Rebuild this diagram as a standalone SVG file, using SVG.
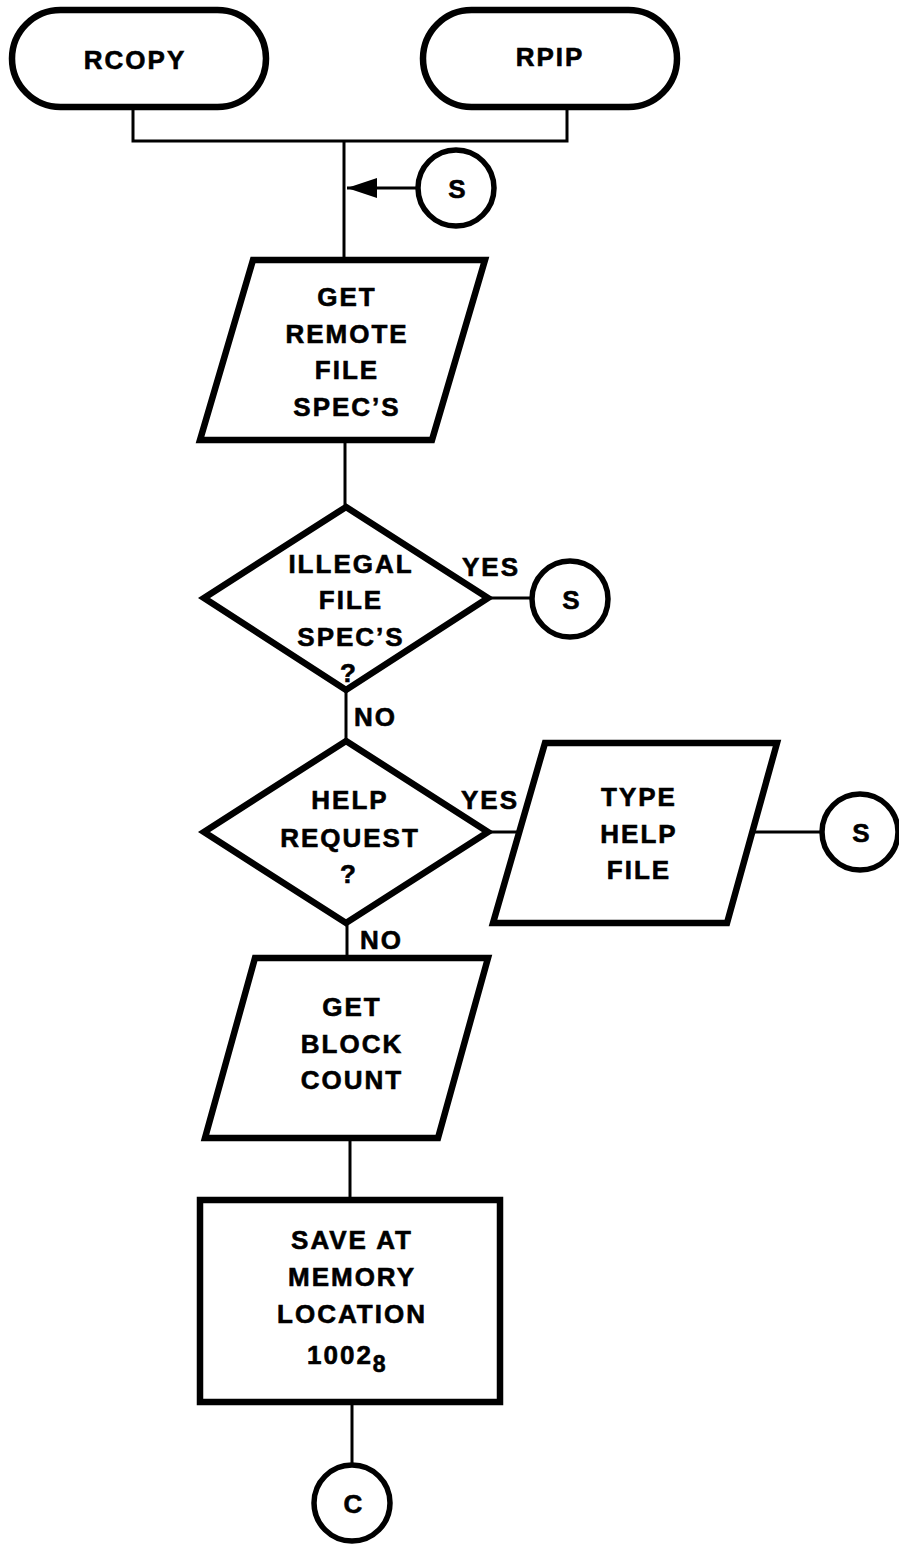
<svg xmlns="http://www.w3.org/2000/svg" width="899" height="1544" viewBox="0 0 899 1544">
<style>
.shape{fill:#fff;stroke:#000;stroke-width:6.5;stroke-linejoin:miter}
.circ{fill:#fff;stroke:#000;stroke-width:5.5}
.conn{fill:none;stroke:#000;stroke-width:3}
text{font-family:"Liberation Sans",Arial,sans-serif;font-weight:bold;font-size:26px;letter-spacing:2px;fill:#000;stroke:#000;stroke-width:0.6}
.m{text-anchor:middle}
.sub{font-size:23px;letter-spacing:0}
</style>
<defs>
<marker id="arr" viewBox="0 0 30 20" refX="30" refY="10" markerWidth="30" markerHeight="20" markerUnits="userSpaceOnUse" orient="auto">
<path d="M0,0 L30,10 L0,20 Z" fill="#000"/>
</marker>
</defs>
<rect width="899" height="1544" fill="#fff"/>
<g id="connectors">
<polyline class="conn" points="133,107 133,141 567,141 567,107"/>
<line class="conn" x1="344" y1="141" x2="344" y2="260"/>
<line class="conn" x1="417" y1="188" x2="347" y2="188" marker-end="url(#arr)"/>
<line class="conn" x1="345" y1="440" x2="345" y2="507"/>
<line class="conn" x1="488" y1="598" x2="532" y2="598"/>
<line class="conn" x1="346" y1="690" x2="346" y2="741"/>
<line class="conn" x1="488" y1="832" x2="519" y2="832"/>
<line class="conn" x1="752" y1="832" x2="822" y2="832"/>
<line class="conn" x1="347" y1="923" x2="347" y2="958"/>
<line class="conn" x1="350" y1="1138" x2="350" y2="1200"/>
<line class="conn" x1="352" y1="1402" x2="352" y2="1463"/>
<text x="462" y="576">YES</text>
<text x="354" y="726">NO</text>
<text x="461" y="809">YES</text>
<text x="360" y="949">NO</text>
</g>
<g id="rcopy">
<rect class="shape" x="12" y="10" width="254" height="97" rx="48.5"/>
<text class="m" x="135" y="69">RCOPY</text>
</g>
<g id="rpip">
<rect class="shape" x="423" y="10" width="254" height="97" rx="48.5"/>
<text class="m" x="550" y="66">RPIP</text>
</g>
<g id="s1">
<circle class="circ" cx="456" cy="188" r="38"/>
<text class="m" x="458" y="198">S</text>
</g>
<g id="get-remote">
<polygon class="shape" points="253,260 485,260 432,440 200,440"/>
<text class="m" x="347" y="306">GET</text>
<text class="m" x="347" y="343">REMOTE</text>
<text class="m" x="347" y="379">FILE</text>
<text class="m" x="347" y="416">SPEC’S</text>
</g>
<g id="illegal">
<polygon class="shape" points="346,507 488,598 346,690 204,598"/>
<text class="m" x="351" y="573">ILLEGAL</text>
<text class="m" x="351" y="609">FILE</text>
<text class="m" x="351" y="646">SPEC’S</text>
<text class="m" x="349" y="682">?</text>
</g>
<g id="s2">
<circle class="circ" cx="570" cy="599" r="38"/>
<text class="m" x="572" y="609">S</text>
</g>
<g id="help">
<polygon class="shape" points="346,741 488,832 346,923 204,832"/>
<text class="m" x="350" y="809">HELP</text>
<text class="m" x="350" y="847">REQUEST</text>
<text class="m" x="349" y="883">?</text>
</g>
<g id="type-help">
<polygon class="shape" points="545,743 777,743 727,923 493,923"/>
<text class="m" x="639" y="806">TYPE</text>
<text class="m" x="639" y="843">HELP</text>
<text class="m" x="639" y="879">FILE</text>
</g>
<g id="s3">
<circle class="circ" cx="860" cy="832" r="38"/>
<text class="m" x="862" y="842">S</text>
</g>
<g id="get-block">
<polygon class="shape" points="255,958 488,958 438,1138 205,1138"/>
<text class="m" x="352" y="1016">GET</text>
<text class="m" x="352" y="1053">BLOCK</text>
<text class="m" x="352" y="1089">COUNT</text>
</g>
<g id="save">
<rect class="shape" x="200" y="1200" width="300" height="202"/>
<text class="m" x="352" y="1249">SAVE AT</text>
<text class="m" x="352" y="1286">MEMORY</text>
<text class="m" x="352" y="1323">LOCATION</text>
<text x="307" y="1364">1002<tspan class="sub" dy="8">8</tspan></text>
</g>
<g id="c">
<circle class="circ" cx="352" cy="1503" r="38"/>
<text class="m" x="354" y="1513">C</text>
</g>
</svg>
